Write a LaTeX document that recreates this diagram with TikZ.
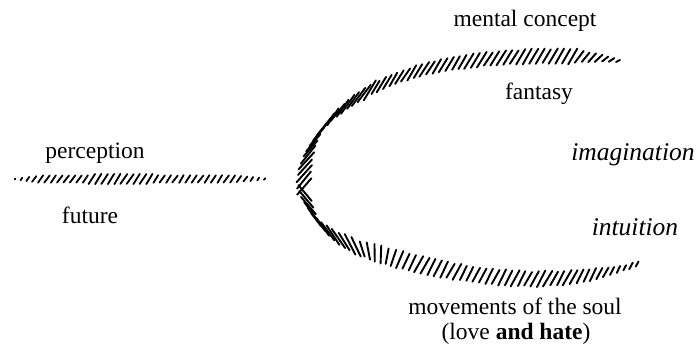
\documentclass[tikz,border=0pt]{standalone}
\usepackage{fontspec}
\setmainfont{Liberation Serif}
\usetikzlibrary{decorations.markings}
\pgfmathsetseed{11}
\tikzset{
  lab/.style={font=\fontsize{23.5}{27}\selectfont, inner sep=0pt, anchor=base, text=black},
  itlab/.style={lab, font=\fontsize{25.5}{29}\selectfont\itshape},
  hatchcurve/.style={
    decoration={markings,
      mark=between positions 0 and 1 step 6.5pt with {
        \pgfmathsetmacro\fr{\pgfkeysvalueof{/pgf/decoration/mark info/distance from start}/\pgfdecoratedpathlength}
        \pgfmathsetmacro\ang{((\fr<0.06)?(30+\fr/0.06*28):((\fr<0.3)?58:((\fr<0.505)?(58-(\fr-0.3)/0.205*10):((\fr<0.6)?(-50-(\fr-0.505)/0.095*8):((\fr<0.68)?(-58-(\fr-0.6)/0.08*60):-118)))))+3*rand}
        \pgfmathsetmacro\hl{0.5*(((\fr<0.06)?(4+\fr/0.06*13):((\fr>0.9)?(17-(\fr-0.9)/0.1*13):((\fr>0.33 && \fr<0.62)?22:17))))+0.8*rand}
        \pgfmathsetmacro\angb{\ang+180}
        \pgftransformresetnontranslations
        \draw[line width=1.9pt, line cap=round] (\ang:\hl pt) -- (\angb:\hl pt);
      }},
    decorate},
  hatchline/.style={
    decoration={markings,
      mark=between positions 0 and 1 step 6.4pt with {
        \pgfmathsetmacro\fr{\pgfkeysvalueof{/pgf/decoration/mark info/distance from start}/\pgfdecoratedpathlength}
        \pgfmathsetmacro\ang{55+5*rand}
        \pgfmathsetmacro\hl{0.5*((\fr<0.1)?(1+\fr/0.1*8):((\fr>0.85)?(9-(\fr-0.85)/0.15*8):((\fr>0.3 && \fr<0.55)?12:9)))}
        \pgfmathsetmacro\angb{\ang+180}
        \pgftransformresetnontranslations
        \draw[line width=1.8pt, line cap=round] (\ang:\hl pt) -- (\angb:\hl pt);
      }},
    decorate}
}
\begin{document}
\begin{tikzpicture}[x=1pt,y=-1pt]
\useasboundingbox (0,0) rectangle (700,351);
% labels
\node[lab] (mc) at (525,26) {mental concept};
\node[lab] (fa) at (539,99) {fantasy};
\node[itlab] (im) at (633,160) {imagination};
\node[lab] (pe) at (95,158) {perception};
\node[lab] (fu) at (90,223) {future};
\node[itlab] (in) at (635,235) {intuition};
\node[lab] (mv) at (515,314) {movements of the soul};
\node[lab] (lh) at (516,339) {(love \textbf{and hate})};
% hatched horizontal line
\coordinate (h1) at (15,179);
\coordinate (h2) at (270,179);
\path[hatchline] (h1) -- (h2);
% hatched C-shaped curve
\coordinate (ctop) at (618,61);
\coordinate (cq1) at (430,68);
\coordinate (cleft) at (304,180);
\coordinate (cq3) at (383,255);
\coordinate (cbot) at (643,262);
\path[hatchcurve] (ctop) .. controls (570,52) and (480,56) .. (cq1)
   .. controls (370,82) and (304,120) .. (cleft)
   .. controls (304,222) and (333,243) .. (cq3)
   .. controls (470,280) and (565,290) .. (cbot);
\end{tikzpicture}
\end{document}
